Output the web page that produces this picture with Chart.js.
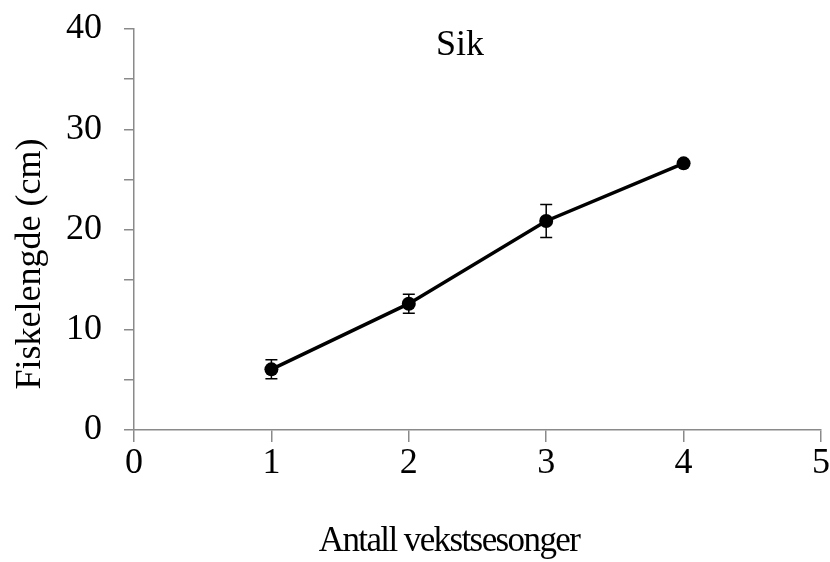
<!DOCTYPE html>
<html>
<head>
<meta charset="utf-8">
<script src="https://cdn.jsdelivr.net/npm/chart.js@4.4.1/dist/chart.umd.min.js"></script>
<style>
  html, body { margin: 0; padding: 0; background: #fff; }
</style>
</head>
<body>
<canvas id="lineChart" width="830" height="562"></canvas>
<script>
// data
const seasons = [1, 2, 3, 4];
const lengthCm = [6.05, 12.6, 20.85, 26.6];
const lengthErr = [0.95, 0.95, 1.65, 0];
const xTickValues = [0, 1, 2, 3, 4, 5];
const yTickValues = [0, 10, 20, 30, 40];
const chartTitle = "Sik";
const xTitle = "Antall vekstsesonger";
const yTitle = "Fiskelengde (cm)";

const serif = "'Liberation Serif', 'Times New Roman', serif";
const axisGray = "#8a8a8a";

// error bars, title inside the plot and both axis titles
const extrasPlugin = {
  id: "extras",
  afterDatasetsDraw(chart) {
    const ctx = chart.ctx;
    const xs = chart.scales.x;
    const ys = chart.scales.y;
    ctx.save();
    ctx.strokeStyle = "#000";
    ctx.lineWidth = 1.5;
    seasons.forEach((s, i) => {
      const err = lengthErr[i];
      if (!err) return;
      const px = xs.getPixelForValue(s);
      const top = ys.getPixelForValue(lengthCm[i] + err);
      const bot = ys.getPixelForValue(lengthCm[i] - err);
      ctx.beginPath();
      ctx.moveTo(px, top);
      ctx.lineTo(px, bot);
      ctx.moveTo(px - 6, top);
      ctx.lineTo(px + 6, top);
      ctx.moveTo(px - 6, bot);
      ctx.lineTo(px + 6, bot);
      ctx.stroke();
    });
    ctx.restore();
  },
  afterDraw(chart) {
    const ctx = chart.ctx;
    ctx.save();
    ctx.fillStyle = "#000";
    ctx.font = "36px " + serif;
    ctx.textAlign = "center";
    ctx.textBaseline = "middle";
    ctx.fillText(chartTitle, 460, 46);
    // axis titles are set a bit tighter, like the original
    ctx.letterSpacing = "-1.6px";
    ctx.font = "35px " + serif;
    ctx.fillText(xTitle, 449, 542);
    ctx.translate(31, 264);
    ctx.rotate(-Math.PI / 2);
    ctx.letterSpacing = "0px";
    ctx.font = "36px " + serif;
    ctx.fillText(yTitle, 0, 0);
    ctx.restore();
  }
};

const points = seasons.map((s, i) => ({ x: s, y: lengthCm[i] }));

const lineCtx = document.getElementById("lineChart").getContext("2d");
const lineChart = new Chart(lineCtx, {
  type: "line",
  data: {
    datasets: [
      {
        label: "Sik",
        data: points,
        borderColor: "#000",
        backgroundColor: "#000",
        borderWidth: 3.5,
        pointRadius: 7,
        pointHoverRadius: 7,
        pointBackgroundColor: "#000",
        pointBorderWidth: 0,
        tension: 0,
      },
    ],
  },
  options: {
    responsive: false,
    animation: false,
    layout: { padding: { top: 29, right: 9, bottom: 0, left: 0 } },
    plugins: {
      legend: { display: false },
      tooltip: { enabled: false },
    },
    scales: {
      x: {
        type: "linear",
        min: 0,
        max: 5,
        afterBuildTicks: (scale) => {
          scale.ticks = xTickValues.map((v) => ({ value: v }));
        },
        afterFit: (scale) => {
          scale.height = 132;
          scale.paddingLeft = 0;
          scale.paddingRight = 0;
        },
        border: { color: axisGray, width: 1.5 },
        grid: {
          drawOnChartArea: false,
          color: axisGray,
          lineWidth: 1.5,
          tickLength: 12,
        },
        ticks: {
          color: "#000",
          font: { family: serif, size: 36 },
          padding: 0,
          maxRotation: 0,
        },
      },
      y: {
        min: 0,
        max: 40,
        ticks: {
          stepSize: 5,
          color: "#000",
          font: { family: serif, size: 36 },
          padding: 22,
          callback: (v) => (yTickValues.includes(v) ? v : ""),
        },
        afterFit: (scale) => {
          scale.width = 134;
          scale.paddingTop = 0;
          scale.paddingBottom = 0;
        },
        border: { color: axisGray, width: 1.5 },
        grid: {
          drawOnChartArea: false,
          color: axisGray,
          lineWidth: 1.5,
          tickLength: 10,
        },
      },
    },
  },
  plugins: [extrasPlugin],
});
</script>
</body>
</html>
